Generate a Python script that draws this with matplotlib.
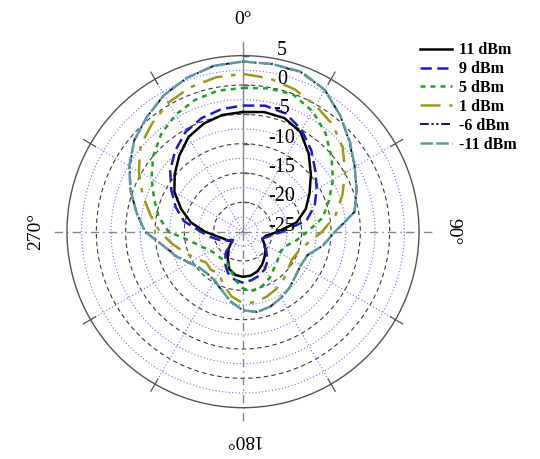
import numpy as np
import matplotlib
matplotlib.use("Agg")
import matplotlib.pyplot as plt

plt.rcParams['font.family'] = ['Liberation Serif', 'DejaVu Serif']

# measured pattern (dB) every 10 degrees, clockwise from top
angles = list(range(0, 360, 10))
p11 = [-4.6, -4.3, -4.4, -5.4, -7.6, -9.9, -11.9, -13.6, -15.7, -19.0,
       -21.0, -21.5, -20.8, -20.0, -19.3, -18.5, -17.8, -17.4, -17.3, -17.5,
       -18.2, -19.8, -21.2, -22.5, -22.0, -21.5, -20.5, -18.5, -16.0, -13.8,
       -11.5, -9.8, -8.1, -6.4, -5.4, -4.8]
p9 = [-3.5, -3.2, -3.6, -5.0, -6.9, -8.9, -10.5, -12.0, -14.0, -18.3,
      -20.5, -21.5, -21.0, -19.8, -18.5, -17.6, -17.0, -16.6, -16.3, -16.7,
      -17.5, -18.8, -20.5, -22.8, -22.0, -20.8, -19.5, -17.8, -14.8, -12.8,
      -10.9, -8.8, -7.0, -5.4, -4.4, -3.8]
p5 = [-0.5, -0.2, -0.1, -1.3, -3.1, -5.3, -7.3, -9.4, -11.2, -14.0,
      -15.9, -17.5, -17.8, -17.3, -16.8, -15.9, -15.2, -14.8, -15.3, -16.8,
      -18.5, -19.2, -19.1, -19.0, -18.6, -17.5, -15.9, -12.3, -10.4, -8.9,
      -7.0, -5.0, -3.3, -2.0, -1.1, -0.6]
p1 = [1.9, 1.5, 0.8, -0.2, -1.2, -2.8, -4.9, -7.0, -9.0, -11.5,
      -13.8, -15.0, -15.4, -15.0, -14.3, -13.7, -13.2, -12.8, -12.8, -13.8,
      -15.3, -16.8, -16.5, -16.8, -15.8, -14.5, -12.8, -10.8, -9.0, -6.8,
      -4.5, -2.2, -0.9, 0.4, 1.2, 1.7]
pm6 = [4.0, 4.0, 3.9, 2.9, 0.8, -1.3, -3.0, -4.4, -5.7, -9.3,
       -11.2, -13.3, -13.6, -13.3, -12.6, -12.0, -11.4, -11.1, -11.6, -12.9,
       -14.4, -15.3, -15.6, -15.4, -14.4, -12.9, -11.2, -8.3, -6.6, -4.6,
       -2.7, -0.8, 0.5, 1.9, 2.9, 3.7]
pm11 = [4.0, 4.0, 4.0, 2.9, 0.8, -1.2, -3.0, -4.4, -5.7, -9.3,
        -11.2, -13.3, -13.6, -13.3, -12.6, -12.0, -11.4, -11.1, -11.6, -12.9,
        -14.4, -15.4, -15.6, -15.4, -14.4, -12.8, -11.2, -8.3, -6.6, -4.6,
        -2.6, -0.8, 0.5, 1.9, 2.9, 3.7]

labels = ['11 dBm', '9 dBm', '5 dBm', '1 dBm', '-6 dBm', '-11 dBm']
r_ticks = [5, 0, -5, -10, -15, -20, -25]

series = [p11, p9, p5, p1, pm6, pm11]
colors = ['black', '#1c1ccc', '#22a022', '#9a9a1e', '#14144e', '#5e9c9c']
styles = [dict(ls='-', lw=1.8),
          dict(ls=(0, (4.5, 2.2)), lw=1.8),
          dict(ls=(0, (2.0, 2.0)), lw=1.8),
          dict(ls=(0, (8, 3.5, 1.8, 3.5)), lw=1.8),
          dict(ls=(0, (4.5, 1.4, 1.1, 1.4, 1.1, 1.4)), lw=1.4),
          dict(ls=(0, (5, 1.3)), lw=1.8)]

rmin, rmax = -25, 5

fig = plt.figure(figsize=(5.4, 4.59), dpi=100)
ax = fig.add_axes([0.124, 0.1118, 0.652, 0.767], projection='polar')
ax.set_theta_zero_location('N')
ax.set_theta_direction(-1)
ax.set_ylim(rmin, rmax)
ax.set_xticks([])
ax.set_yticks([])
ax.grid(False)
ax.spines['polar'].set_color('#555555')
ax.spines['polar'].set_linewidth(1.0)

# grid circles
tt = np.linspace(0, 2 * np.pi, 400)
for r in np.arange(-20, 5, 5):
    ax.plot(tt, np.full_like(tt, r), color='#3a3a3a', lw=0.8, ls=(0, (4, 3)), zorder=1)
for r in np.arange(-22.5, 5, 5):
    ax.plot(tt, np.full_like(tt, r), color='#7070f0', lw=0.8, ls=(0, (1, 2)), zorder=1)
# radial dotted spokes
for a in range(0, 360, 30):
    if a % 90:
        ax.plot([np.deg2rad(a)] * 2, [rmin, rmax], color='#7070f0', lw=0.8,
                ls=(0, (1, 2)), zorder=1)
        ax.plot([np.deg2rad(a)] * 2, [4.0, 6.4], color='#555555', lw=0.9,
                clip_on=False, zorder=1)
# main axes lines
for a in [0, 90, 180, 270]:
    ls = '-' if a == 0 else (0, (6, 3, 1, 3))
    ax.plot([np.deg2rad(a)] * 2, [rmin, 7.3], color='#888888', lw=1.0, ls=ls,
            clip_on=False, zorder=1)

# pattern curves
for vals, c, st, lab in zip(series, colors, styles, labels):
    th = np.deg2rad(angles + [360])
    ax.plot(th, vals + [vals[0]], color=c, label=lab, zorder=3, **st)

# radial tick marks and labels
for r in r_ticks:
    if r > rmin:
        ax.plot([0], [r], marker=[(0, 0), (1, 0)], markersize=9, color='#555555',
                mew=1.0, clip_on=False, zorder=2)
    ax.annotate(str(r), xy=(0, r), xytext=(28, 4), textcoords='offset points',
                ha='center', va='center', fontsize=14.5, zorder=4)

# angle labels
ax.text(0, 11.2, '0°', ha='center', va='center', fontsize=14)
ax.text(np.deg2rad(90), 10.8, '90°', ha='center', va='center', fontsize=14, rotation=-90)
ax.text(np.deg2rad(180), 10.4, '180°', ha='center', va='center', fontsize=14, rotation=180)
ax.text(np.deg2rad(270), 10.4, '270°', ha='center', va='center', fontsize=14, rotation=90)

fig.legend(loc='upper left', bbox_to_anchor=(0.777, 0.908), frameon=False,
           prop={'weight': 'bold', 'size': 11.5}, handlelength=2.0,
           handletextpad=0.45, labelspacing=0.18, borderpad=0, borderaxespad=0)

fig.savefig('out.png', dpi=100)
